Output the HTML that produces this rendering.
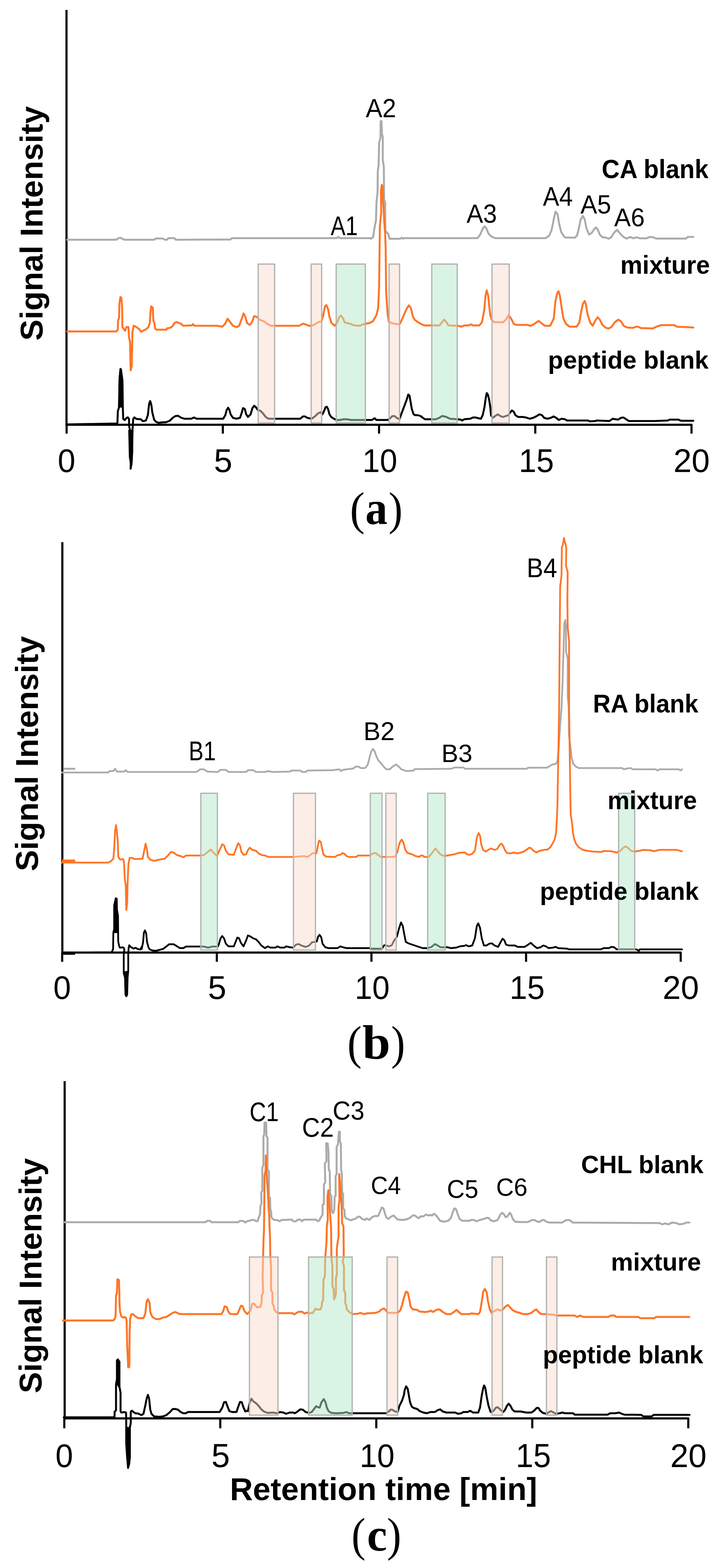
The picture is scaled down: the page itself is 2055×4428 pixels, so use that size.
<!DOCTYPE html>
<html><head><meta charset="utf-8"><title>Chromatograms</title>
<style>html,body{margin:0;padding:0;background:#fff;}svg{display:block;filter:blur(0.6px);}</style>
</head><body>
<svg width="2055" height="4428" viewBox="0 0 2055 4428">
<rect width="2055" height="4428" fill="#fff"/>
<path d="M187.7,28.0 L187.7,1199.5" stroke="#000" stroke-width="6.0" fill="none" stroke-linecap="butt"/>
<path d="M184.7,1199.5 L1952.0,1199.5 L1952.0,1224.5" stroke="#000" stroke-width="6.0" fill="none" stroke-linejoin="round"/>
<path d="M188.0,1199.5 L188.0,1224.5" stroke="#000" stroke-width="6.0" fill="none"/>
<path d="M629.0,1199.5 L629.0,1224.5" stroke="#000" stroke-width="6.0" fill="none"/>
<path d="M1070.0,1199.5 L1070.0,1224.5" stroke="#000" stroke-width="6.0" fill="none"/>
<path d="M1511.0,1199.5 L1511.0,1224.5" stroke="#000" stroke-width="6.0" fill="none"/>
<text transform="translate(163.07,1333.38) scale(0.9704,1)" font-family='"Liberation Sans", Arial, sans-serif' font-weight="normal" font-size="92.16">0</text>
<text transform="translate(603.84,1333.37) scale(1.0045,1)" font-family='"Liberation Sans", Arial, sans-serif' font-weight="normal" font-size="93.48">5</text>
<text transform="translate(1023.01,1333.38) scale(0.9606,1)" font-family='"Liberation Sans", Arial, sans-serif' font-weight="normal" font-size="92.16">10</text>
<text transform="translate(1464.41,1333.37) scale(0.9547,1)" font-family='"Liberation Sans", Arial, sans-serif' font-weight="normal" font-size="93.48">15</text>
<text transform="translate(1901.04,1333.38) scale(1.0008,1)" font-family='"Liberation Sans", Arial, sans-serif' font-weight="normal" font-size="92.16">20</text>
<path d="M189.4,677.1 L328.6,677.1 L332.4,673.4 L339.9,671.5 L345.5,674.5 L351.2,677.1 L435.8,677.1 L439.6,673.4 L458.4,673.4 L465.9,677.1 L471.6,677.1 L475.3,672.6 L492.3,672.6 L496.0,677.1 L600.0,676.5 L650.0,676.5 L655.0,672.5 L950.0,672.5 L955.0,669.0 L960.0,672.5 L1046.0,672.5 L1046.6,674.2 L1053.2,669.8 L1056.9,644.7 L1061.3,622.6 L1062.8,570.9 L1065.8,541.4 L1066.5,482.4 L1068.7,467.6 L1070.2,402.7 L1073.9,389.4 L1074.6,342.1 L1076.8,342.1 L1078.3,379.0 L1080.5,386.4 L1080.5,452.8 L1083.5,470.6 L1084.2,563.5 L1087.2,570.9 L1087.9,652.1 L1095.3,659.5 L1099.7,674.2 L1129.2,674.2 L1133.7,671.3 L1138.1,674.2 L1140.0,672.5 L1198.0,672.5 L1348.0,672.5 L1355.5,662.5 L1363.0,645.0 L1368.0,639.0 L1373.0,645.0 L1379.0,660.0 L1388.0,668.5 L1398.0,672.5 L1540.5,672.5 L1550.5,665.0 L1557.0,650.0 L1562.0,625.0 L1568.0,597.5 L1574.0,605.0 L1578.0,630.0 L1584.0,655.0 L1593.0,669.0 L1598.0,671.0 L1623.0,671.0 L1629.0,665.0 L1634.0,645.0 L1639.0,620.0 L1645.5,610.0 L1650.5,620.0 L1655.5,645.0 L1663.0,662.5 L1670.5,657.5 L1677.0,647.5 L1682.0,642.5 L1687.0,647.5 L1693.0,662.5 L1700.5,670.0 L1710.5,671.0 L1718.0,674.0 L1725.5,670.0 L1733.0,657.5 L1742.0,649.0 L1750.6,659.9 L1759.9,669.1 L1769.1,673.8 L1778.4,669.1 L1787.7,672.9 L1797.0,670.1 L1806.3,672.9 L1824.8,672.9 L1834.1,669.1 L1843.4,670.1 L1852.7,673.8 L1936.2,673.8 L1940.8,669.1 L1957.1,669.1" stroke="#ABABAB" stroke-width="5.5" fill="none" stroke-linejoin="round" stroke-linecap="round" />
<path d="M189.4,936.0 L328.6,936.0 L332.4,931.1 L333.5,904.7 L336.1,897.2 L337.3,855.8 L339.9,838.9 L342.5,840.8 L344.8,867.1 L345.5,923.6 L349.3,929.2 L353.1,934.1 L356.8,923.6 L362.5,923.6 L364.3,953.6 L367.0,964.9 L368.9,1045.8 L371.9,1032.7 L373.8,938.6 L377.5,919.8 L385.0,923.6 L392.6,929.2 L398.2,936.7 L405.7,933.0 L413.3,929.2 L418.9,923.6 L422.7,912.3 L424.5,885.9 L426.4,865.2 L431.3,869.0 L432.8,904.7 L435.8,912.3 L437.7,927.3 L441.5,931.1 L469.7,931.1 L471.6,927.3 L481.0,925.4 L486.6,921.7 L492.3,912.3 L497.9,909.3 L505.4,912.3 L511.1,914.1 L516.7,919.8 L541.2,919.0 L544.9,915.3 L548.7,919.8 L612.5,920.0 L627.5,922.5 L635.0,915.0 L642.5,900.0 L650.0,910.0 L657.5,920.0 L667.5,924.0 L675.0,920.0 L682.5,900.0 L687.5,885.0 L692.5,895.0 L697.5,912.5 L705.0,917.5 L711.0,910.0 L717.5,892.5 L725.0,895.0 L732.5,902.5 L745.0,907.5 L755.0,915.0 L765.0,920.0 L845.0,920.0 L855.0,914.0 L862.5,916.0 L872.5,920.0 L880.0,920.0 L890.0,915.0 L900.0,909.0 L907.5,907.5 L912.5,890.0 L917.5,865.0 L921.0,861.5 L926.0,872.5 L930.0,895.0 L936.0,912.5 L945.0,920.0 L952.5,910.0 L957.5,895.0 L962.5,891.5 L969.0,900.0 L972.5,910.0 L980.0,912.5 L990.0,915.0 L1000.0,919.0 L1015.0,920.0 L1027.5,915.0 L1042.5,912.5 L1052.5,907.5 L1062.5,890.0 L1067.5,870.0 L1070.0,815.0 L1072.4,637.3 L1076.1,600.4 L1075.4,541.4 L1077.6,522.2 L1079.8,526.6 L1081.3,570.9 L1082.7,585.7 L1084.9,630.0 L1087.2,659.5 L1088.6,700.2 L1090.0,825.0 L1094.0,885.0 L1097.5,907.5 L1105.0,912.5 L1120.0,915.0 L1127.5,916.0 L1132.5,907.5 L1140.0,890.0 L1147.5,872.5 L1154.0,862.5 L1160.0,870.0 L1165.0,892.5 L1170.0,902.5 L1180.0,910.0 L1190.0,916.0 L1198.0,919.0 L1240.5,919.0 L1248.0,910.0 L1254.0,902.5 L1260.5,910.0 L1265.5,919.0 L1293.0,920.0 L1303.0,922.5 L1310.5,919.0 L1323.0,919.0 L1329.0,916.0 L1335.5,919.0 L1353.0,919.0 L1360.5,910.0 L1367.0,875.0 L1370.5,835.0 L1374.0,820.0 L1378.0,835.0 L1380.5,860.0 L1384.0,890.0 L1388.0,902.5 L1395.5,910.0 L1408.0,910.0 L1420.5,910.0 L1428.0,902.5 L1435.5,890.0 L1443.0,900.0 L1450.5,915.0 L1458.0,917.5 L1488.0,917.5 L1498.0,920.0 L1508.0,915.0 L1520.5,906.0 L1528.0,912.5 L1538.0,920.0 L1553.0,920.0 L1563.0,900.0 L1568.0,850.0 L1573.0,827.5 L1576.5,822.5 L1580.5,835.0 L1585.5,870.0 L1590.5,900.0 L1598.0,915.0 L1608.0,922.5 L1628.0,922.5 L1635.5,910.0 L1640.5,880.0 L1645.5,857.5 L1650.5,850.0 L1654.0,860.0 L1658.0,885.0 L1665.5,910.0 L1673.0,920.0 L1680.5,905.0 L1687.0,896.0 L1693.0,902.5 L1700.5,917.5 L1710.5,926.0 L1718.0,927.5 L1725.5,924.0 L1735.5,910.0 L1745.5,902.5 L1753.0,907.5 L1760.5,920.0 L1770.5,925.0 L1785.5,926.0 L1796.0,922.5 L1801.6,922.7 L1808.6,926.5 L1843.4,927.4 L1852.7,922.7 L1866.6,918.1 L1903.7,918.1 L1910.7,922.7 L1940.8,923.7 L1957.1,925.1" stroke="#FF7526" stroke-width="5.5" fill="none" stroke-linejoin="round" stroke-linecap="round" />
<path d="M190.0,1198.5 L329.3,1196.1 L331.5,1193.9 L332.6,1161.3 L335.9,1150.4 L337.5,1068.9 L340.2,1041.7 L342.9,1063.5 L345.7,1074.3 L346.7,1150.4 L347.8,1183.0 L352.2,1186.3 L357.6,1179.8 L360.9,1178.7 L364.1,1183.0 L364.7,1204.8 L367.4,1215.7 L369.6,1300.0 L368.6,1323.7 L371.7,1300.0 L373.9,1215.7 L376.1,1183.0 L379.3,1178.7 L384.8,1183.0 L397.8,1184.1 L403.3,1189.6 L412.0,1187.4 L417.4,1172.2 L421.0,1140.0 L424.0,1132.5 L427.5,1145.0 L430.0,1165.0 L435.0,1185.0 L440.0,1191.0 L447.5,1194.0 L460.0,1192.5 L467.5,1192.5 L475.0,1190.0 L480.0,1187.5 L487.5,1180.0 L495.0,1175.0 L502.5,1174.0 L510.0,1179.0 L520.0,1182.5 L540.0,1182.5 L547.5,1179.0 L555.0,1182.5 L630.0,1182.5 L636.0,1172.5 L640.0,1157.5 L644.0,1151.5 L647.5,1157.5 L651.0,1170.0 L657.5,1180.0 L667.5,1182.5 L677.5,1180.0 L682.5,1165.0 L686.0,1152.5 L691.0,1155.0 L695.0,1170.0 L700.0,1177.5 L707.5,1170.0 L712.5,1152.5 L717.5,1146.0 L722.5,1150.0 L727.5,1157.5 L735.0,1160.0 L742.5,1167.5 L750.0,1177.5 L757.5,1182.5 L775.0,1182.5 L847.5,1182.5 L855.0,1176.0 L861.0,1176.0 L867.5,1180.0 L880.0,1182.5 L890.0,1175.0 L897.5,1167.5 L905.0,1164.0 L910.0,1170.0 L914.0,1162.5 L919.0,1150.0 L922.5,1148.5 L926.0,1155.0 L930.0,1170.0 L935.0,1177.5 L942.5,1182.5 L950.0,1186.0 L960.0,1186.0 L970.0,1184.0 L980.0,1184.0 L990.0,1186.0 L1000.0,1186.0 L1030.0,1186.0 L1050.0,1186.0 L1057.5,1181.0 L1062.5,1186.0 L1095.0,1186.0 L1102.5,1180.0 L1107.5,1175.0 L1114.0,1175.0 L1120.0,1180.0 L1127.5,1184.0 L1132.5,1170.0 L1140.0,1150.0 L1147.5,1130.0 L1152.5,1114.0 L1156.0,1117.5 L1159.0,1135.0 L1162.5,1155.0 L1167.5,1170.0 L1172.5,1172.5 L1180.0,1172.5 L1187.5,1175.0 L1195.0,1181.0 L1200.0,1184.0 L1220.0,1184.0 L1230.0,1184.0 L1240.0,1180.0 L1247.5,1175.0 L1250.0,1175.0 L1260.0,1177.5 L1270.0,1182.5 L1292.5,1184.0 L1300.0,1185.0 L1305.0,1187.5 L1310.0,1184.0 L1327.5,1182.5 L1335.0,1179.0 L1342.5,1179.0 L1350.0,1181.0 L1357.5,1182.5 L1362.5,1172.5 L1367.5,1150.0 L1371.0,1125.0 L1374.0,1110.0 L1377.5,1115.0 L1381.0,1130.0 L1384.0,1150.0 L1386.0,1172.5 L1391.0,1180.0 L1397.5,1175.0 L1405.0,1170.0 L1412.5,1175.0 L1420.0,1177.5 L1427.5,1175.0 L1435.0,1172.5 L1440.0,1165.0 L1445.0,1159.0 L1450.0,1162.5 L1455.0,1172.5 L1462.5,1177.5 L1475.0,1177.5 L1485.0,1179.0 L1495.0,1182.5 L1505.0,1180.0 L1515.0,1175.0 L1522.5,1170.0 L1530.0,1172.5 L1536.0,1180.0 L1545.0,1182.5 L1555.0,1180.0 L1562.5,1176.0 L1570.0,1180.0 L1577.5,1186.0 L1585.0,1182.5 L1595.0,1184.0 L1600.0,1187.5 L1660.0,1187.5 L1665.0,1190.0 L1680.0,1189.0 L1685.0,1187.5 L1720.0,1189.0 L1730.0,1182.5 L1737.5,1184.0 L1745.0,1185.0 L1752.5,1180.0 L1760.0,1179.0 L1767.5,1184.0 L1775.0,1189.0 L1848.0,1189.0 L1885.2,1187.4 L1889.8,1185.1 L1915.3,1185.1 L1922.3,1188.3 L1957.1,1188.3" stroke="#000" stroke-width="5.5" fill="none" stroke-linejoin="round" stroke-linecap="round" />
<rect x="728.8" y="745.8" width="46.5" height="448.5" fill="rgba(249,219,205,0.5)" stroke="#B2B2B2" stroke-width="3.5"/>
<rect x="878.4" y="745.8" width="29.6" height="448.5" fill="rgba(249,219,205,0.5)" stroke="#B2B2B2" stroke-width="3.5"/>
<rect x="949.0" y="745.8" width="82.3" height="448.5" fill="rgba(179,233,201,0.5)" stroke="#B2B2B2" stroke-width="3.5"/>
<rect x="1098.3" y="745.8" width="29.6" height="448.5" fill="rgba(249,219,205,0.5)" stroke="#B2B2B2" stroke-width="3.5"/>
<rect x="1218.8" y="745.8" width="71.9" height="448.5" fill="rgba(179,233,201,0.5)" stroke="#B2B2B2" stroke-width="3.5"/>
<rect x="1388.8" y="745.8" width="48.6" height="448.5" fill="rgba(249,219,205,0.5)" stroke="#B2B2B2" stroke-width="3.5"/>
<path d="M176.0,1531.0 L176.0,2690.0" stroke="#000" stroke-width="6.0" fill="none" stroke-linecap="butt"/>
<path d="M173.0,2690.0 L1921.5,2690.0 L1921.5,2716.0" stroke="#000" stroke-width="6.0" fill="none" stroke-linejoin="round"/>
<path d="M175.5,2690.0 L175.5,2716.0" stroke="#000" stroke-width="6.0" fill="none"/>
<path d="M612.0,2690.0 L612.0,2716.0" stroke="#000" stroke-width="6.0" fill="none"/>
<path d="M1048.5,2690.0 L1048.5,2716.0" stroke="#000" stroke-width="6.0" fill="none"/>
<path d="M1485.0,2690.0 L1485.0,2716.0" stroke="#000" stroke-width="6.0" fill="none"/>
<text transform="translate(150.57,2821.38) scale(0.9704,1)" font-family='"Liberation Sans", Arial, sans-serif' font-weight="normal" font-size="92.16">0</text>
<text transform="translate(586.84,2821.37) scale(1.0045,1)" font-family='"Liberation Sans", Arial, sans-serif' font-weight="normal" font-size="93.48">5</text>
<text transform="translate(1001.51,2821.38) scale(0.9606,1)" font-family='"Liberation Sans", Arial, sans-serif' font-weight="normal" font-size="92.16">10</text>
<text transform="translate(1438.41,2821.37) scale(0.9547,1)" font-family='"Liberation Sans", Arial, sans-serif' font-weight="normal" font-size="93.48">15</text>
<text transform="translate(1870.54,2821.38) scale(1.0008,1)" font-family='"Liberation Sans", Arial, sans-serif' font-weight="normal" font-size="92.16">20</text>
<path d="M180,2171 L212.5,2171" stroke="#ABABAB" stroke-width="5.5" fill="none"/>
<path d="M175.0,2181.5 L305.0,2181.5 L310.0,2177.5 L320.0,2177.5 L325.0,2171.0 L330.0,2179.0 L350.0,2179.0 L355.0,2175.0 L360.0,2180.0 L555.0,2180.0 L565.0,2172.5 L575.0,2172.5 L585.0,2179.0 L615.0,2180.0 L622.5,2174.0 L637.5,2174.0 L645.0,2180.0 L695.0,2180.0 L700.0,2175.0 L715.0,2175.0 L722.5,2180.0 L748.0,2180.0 L758.0,2177.5 L768.0,2180.0 L818.0,2179.0 L823.0,2176.0 L848.0,2176.0 L853.0,2180.0 L863.0,2180.0 L868.0,2176.0 L938.0,2175.0 L958.0,2172.5 L963.0,2177.5 L968.0,2174.0 L998.0,2170.0 L1003.0,2165.0 L1013.0,2165.0 L1018.0,2169.0 L1030.5,2169.0 L1038.0,2160.0 L1043.0,2140.0 L1048.0,2122.5 L1053.0,2115.0 L1058.0,2122.5 L1062.0,2135.0 L1068.0,2147.5 L1075.5,2155.0 L1083.0,2165.0 L1090.5,2172.5 L1100.5,2172.5 L1108.0,2165.0 L1118.0,2159.0 L1125.5,2165.0 L1133.0,2172.5 L1143.0,2176.0 L1148.0,2177.5 L1168.0,2176.0 L1170.5,2172.0 L1273.0,2171.0 L1283.0,2167.5 L1308.0,2167.5 L1313.0,2171.0 L1346.0,2171.0 L1486.0,2171.0 L1491.0,2168.0 L1543.5,2168.0 L1551.0,2164.0 L1558.5,2159.0 L1568.5,2157.5 L1573.5,2150.0 L1577.0,2115.0 L1581.0,2050.0 L1585.0,2000.2 L1588.0,1927.2 L1590.9,1830.1 L1592.8,1762.1 L1595.7,1750.5 L1597.7,1771.8 L1597.7,1839.8 L1602.5,1859.2 L1602.5,1966.0 L1605.4,2000.2 L1606.0,2075.0 L1611.0,2115.0 L1613.5,2140.0 L1618.5,2157.5 L1626.0,2165.0 L1633.5,2169.0 L1756.0,2169.0 L1761.0,2172.5 L1771.0,2170.0 L1781.0,2169.0 L1786.0,2172.5 L1851.0,2172.5 L1856.0,2176.0 L1861.0,2172.5 L1916.0,2172.5 L1921.0,2176.0 L1925.0,2172.5" stroke="#ABABAB" stroke-width="5.0" fill="none" stroke-linejoin="round" stroke-linecap="round" />
<path d="M175,2431 L212,2431" stroke="#FF7526" stroke-width="7.5" fill="none"/>
<path d="M175.0,2436.0 L305.0,2436.0 L312.5,2432.5 L320.0,2425.0 L322.5,2395.0 L325.0,2345.0 L327.5,2330.0 L330.0,2350.0 L332.5,2375.0 L334.0,2420.0 L339.0,2427.5 L347.5,2426.0 L350.0,2435.0 L352.5,2485.0 L355.0,2500.0 L356.5,2570.0 L359.0,2550.0 L360.0,2500.0 L362.5,2440.0 L366.0,2422.5 L372.5,2422.5 L380.0,2426.0 L402.5,2425.0 L407.5,2400.0 L411.0,2382.5 L415.0,2400.0 L417.5,2420.0 L424.0,2427.5 L435.0,2431.0 L450.0,2427.5 L465.0,2425.0 L475.0,2415.0 L482.5,2406.0 L490.0,2407.5 L500.0,2415.0 L510.0,2417.5 L517.5,2421.0 L525.0,2416.0 L565.0,2416.0 L575.0,2415.0 L587.5,2405.0 L595.0,2399.0 L602.5,2407.5 L612.5,2417.5 L620.0,2400.0 L627.5,2384.0 L632.5,2387.5 L637.5,2402.5 L645.0,2412.5 L660.0,2414.0 L665.0,2400.0 L672.5,2381.0 L677.5,2387.5 L681.0,2405.0 L687.5,2414.0 L695.0,2412.5 L700.0,2400.0 L705.0,2394.0 L712.5,2400.0 L722.5,2402.5 L730.0,2410.0 L740.0,2415.0 L748.0,2416.0 L758.0,2420.0 L828.0,2420.0 L858.0,2417.5 L868.0,2420.0 L875.5,2415.0 L883.0,2409.0 L893.0,2410.0 L897.0,2390.0 L900.5,2374.0 L905.5,2377.5 L909.0,2395.0 L913.0,2412.5 L920.5,2419.0 L945.5,2420.0 L953.0,2415.0 L960.5,2414.0 L967.0,2409.0 L972.0,2411.0 L978.0,2417.5 L985.5,2420.0 L1005.5,2420.0 L1010.5,2416.0 L1043.0,2416.0 L1053.0,2410.0 L1060.5,2409.0 L1068.0,2415.0 L1075.5,2420.0 L1098.0,2420.0 L1115.5,2419.0 L1122.0,2405.0 L1128.0,2380.0 L1134.0,2371.0 L1139.0,2380.0 L1144.0,2400.0 L1150.5,2409.0 L1163.0,2412.5 L1173.0,2417.5 L1183.0,2420.0 L1188.0,2416.0 L1193.0,2416.0 L1198.0,2420.0 L1210.5,2420.0 L1220.5,2407.5 L1229.0,2396.0 L1235.5,2404.0 L1243.0,2412.5 L1253.0,2417.5 L1263.0,2416.0 L1273.0,2414.0 L1283.0,2412.5 L1293.0,2409.0 L1303.0,2407.5 L1313.0,2407.5 L1318.0,2412.5 L1325.5,2414.0 L1333.0,2411.0 L1340.5,2402.5 L1346.0,2365.0 L1351.0,2352.5 L1355.0,2360.0 L1358.5,2385.0 L1363.5,2400.0 L1371.0,2405.0 L1378.5,2400.0 L1386.0,2396.0 L1396.0,2400.0 L1403.5,2397.5 L1411.0,2385.0 L1416.0,2382.5 L1421.0,2390.0 L1425.0,2400.0 L1431.0,2409.0 L1441.0,2410.0 L1451.0,2407.5 L1461.0,2410.0 L1476.0,2406.0 L1486.0,2400.0 L1493.5,2394.0 L1498.5,2395.0 L1506.0,2402.5 L1513.5,2407.5 L1523.5,2402.5 L1536.0,2400.0 L1546.0,2399.0 L1553.5,2392.5 L1561.0,2380.0 L1566.0,2370.0 L1570.0,2350.0 L1572.0,2310.0 L1573.5,2275.0 L1578.3,2000.2 L1579.2,1888.3 L1581.2,1655.3 L1585.0,1626.2 L1586.0,1544.7 L1588.9,1538.8 L1591.8,1519.4 L1596.7,1538.8 L1598.6,1548.5 L1597.7,1597.1 L1602.5,1616.5 L1601.6,1694.2 L1602.5,1771.8 L1606.4,1810.7 L1606.4,2000.2 L1610.0,2250.0 L1611.0,2300.0 L1615.0,2325.0 L1617.0,2350.0 L1621.0,2370.0 L1626.0,2382.5 L1633.5,2392.5 L1643.5,2399.0 L1656.0,2402.5 L1676.0,2405.0 L1696.0,2406.0 L1706.0,2403.0 L1726.0,2404.0 L1741.0,2407.5 L1751.0,2402.5 L1758.5,2395.0 L1766.0,2390.0 L1773.5,2395.0 L1781.0,2402.5 L1791.0,2405.0 L1806.0,2402.5 L1816.0,2400.0 L1836.0,2401.0 L1846.0,2404.0 L1861.0,2400.0 L1911.0,2400.0 L1918.5,2402.5 L1925.0,2404.0" stroke="#FF7526" stroke-width="5.0" fill="none" stroke-linejoin="round" stroke-linecap="round" />
<path d="M175,2692 L212,2692" stroke="#000" stroke-width="8.5" fill="none"/>
<path d="M212.5,2690.0 L315.0,2689.0 L315.6,2688.5 L319.3,2680.0 L319.9,2634.3 L322.3,2622.3 L322.3,2556.1 L325.3,2544.0 L326.5,2536.8 L329.5,2538.0 L330.1,2568.1 L333.1,2586.2 L333.7,2658.4 L336.1,2670.4 L338.5,2676.4 L345.7,2675.2 L349.3,2676.4 L351.1,2682.5 L349.3,2694.5 L349.3,2748.6 L352.9,2760.7 L354.2,2808.8 L356.6,2813.6 L359.0,2808.8 L360.2,2760.7 L362.0,2742.6 L362.0,2694.5 L363.2,2676.4 L365.0,2669.2 L368.6,2674.0 L377.0,2678.8 L383.0,2676.4 L386.6,2678.8 L392.7,2681.2 L396.3,2681.2 L399.9,2674.0 L400.0,2680.0 L404.0,2660.0 L406.0,2635.0 L409.0,2627.5 L412.5,2635.0 L415.0,2660.0 L419.0,2675.0 L422.5,2681.0 L430.0,2684.0 L440.0,2685.0 L450.0,2682.5 L460.0,2680.0 L470.0,2672.5 L477.5,2666.5 L490.0,2666.5 L500.0,2672.5 L507.5,2677.5 L517.5,2677.5 L525.0,2673.0 L565.0,2673.0 L575.0,2673.0 L587.5,2676.0 L600.0,2673.0 L615.0,2673.0 L617.5,2667.5 L622.5,2650.0 L627.5,2643.5 L632.5,2650.0 L637.5,2665.0 L645.0,2672.5 L660.0,2672.5 L665.0,2660.0 L670.0,2647.5 L675.0,2650.0 L680.0,2662.5 L687.5,2672.5 L695.0,2655.0 L700.0,2641.5 L707.5,2645.0 L715.0,2650.0 L722.5,2652.5 L730.0,2660.0 L737.5,2670.0 L748.0,2677.5 L755.5,2672.5 L763.0,2676.0 L778.0,2676.0 L783.0,2672.5 L790.5,2676.0 L803.0,2676.0 L808.0,2672.5 L818.0,2675.0 L828.0,2676.0 L835.5,2667.5 L843.0,2666.0 L853.0,2671.0 L863.0,2674.0 L873.0,2670.0 L880.5,2661.0 L888.0,2660.0 L894.0,2659.0 L898.0,2645.0 L902.0,2640.0 L907.0,2647.5 L910.5,2665.0 L918.0,2675.0 L928.0,2677.5 L953.0,2677.5 L960.5,2672.5 L968.0,2675.0 L978.0,2677.5 L1043.0,2677.5 L1048.0,2679.0 L1078.0,2679.0 L1084.0,2670.0 L1088.0,2669.0 L1098.0,2672.5 L1105.5,2670.0 L1113.0,2655.0 L1120.5,2645.0 L1125.5,2625.0 L1132.0,2605.0 L1137.0,2615.0 L1140.5,2635.0 L1145.5,2660.0 L1153.0,2664.0 L1163.0,2667.5 L1178.0,2672.5 L1193.0,2677.5 L1208.0,2677.5 L1218.0,2674.0 L1228.0,2666.0 L1235.5,2670.0 L1243.0,2675.0 L1263.0,2675.0 L1273.0,2677.5 L1288.0,2676.0 L1298.0,2672.5 L1310.5,2671.0 L1315.5,2669.0 L1323.0,2672.5 L1333.0,2670.0 L1340.5,2650.0 L1346.0,2615.0 L1350.0,2607.5 L1355.0,2620.0 L1360.0,2650.0 L1366.0,2670.0 L1373.5,2670.0 L1381.0,2665.0 L1388.5,2664.0 L1396.0,2670.0 L1406.0,2674.0 L1413.5,2660.0 L1418.5,2651.0 L1423.5,2655.0 L1428.5,2667.5 L1436.0,2670.0 L1453.5,2670.0 L1461.0,2674.0 L1481.0,2674.0 L1491.0,2667.5 L1498.5,2662.5 L1506.0,2670.0 L1516.0,2677.5 L1526.0,2675.0 L1533.5,2670.0 L1541.0,2672.5 L1548.5,2677.5 L1561.0,2676.0 L1568.5,2674.0 L1576.0,2677.5 L1601.0,2679.0 L1606.0,2681.0 L1696.0,2681.0 L1703.5,2677.5 L1718.5,2677.5 L1726.0,2674.0 L1733.5,2675.0 L1741.0,2681.0 L1796.0,2681.0 L1803.5,2685.0 L1806.0,2681.0 L1925.0,2681.0" stroke="#000" stroke-width="5.0" fill="none" stroke-linejoin="round" stroke-linecap="round" />
<rect x="566.9" y="2240.2" width="46.7" height="443.0" fill="rgba(179,233,201,0.5)" stroke="#B2B2B2" stroke-width="3.5"/>
<rect x="828.4" y="2240.2" width="62.1" height="443.0" fill="rgba(249,219,205,0.5)" stroke="#B2B2B2" stroke-width="3.5"/>
<rect x="1045.3" y="2240.2" width="33.1" height="443.0" fill="rgba(179,233,201,0.5)" stroke="#B2B2B2" stroke-width="3.5"/>
<rect x="1089.2" y="2240.2" width="29.3" height="443.0" fill="rgba(249,219,205,0.5)" stroke="#B2B2B2" stroke-width="3.5"/>
<rect x="1207.3" y="2240.2" width="49.2" height="443.0" fill="rgba(179,233,201,0.5)" stroke="#B2B2B2" stroke-width="3.5"/>
<rect x="1746.3" y="2240.2" width="45.4" height="443.0" fill="rgba(179,233,201,0.5)" stroke="#B2B2B2" stroke-width="3.5"/>
<path d="M182.5,3053.0 L182.5,4005.5" stroke="#000" stroke-width="6.0" fill="none" stroke-linecap="butt"/>
<path d="M179.5,4005.5 L1942.9,4005.5 L1942.9,4033.5" stroke="#000" stroke-width="6.0" fill="none" stroke-linejoin="round"/>
<path d="M181.5,4005.5 L181.5,4033.5" stroke="#000" stroke-width="6.0" fill="none"/>
<path d="M621.8,4005.5 L621.8,4033.5" stroke="#000" stroke-width="6.0" fill="none"/>
<path d="M1062.2,4005.5 L1062.2,4033.5" stroke="#000" stroke-width="6.0" fill="none"/>
<path d="M1502.5,4005.5 L1502.5,4033.5" stroke="#000" stroke-width="6.0" fill="none"/>
<text transform="translate(156.57,4143.07) scale(0.9586,1)" font-family='"Liberation Sans", Arial, sans-serif' font-weight="normal" font-size="93.29">0</text>
<text transform="translate(596.69,4143.05) scale(0.9923,1)" font-family='"Liberation Sans", Arial, sans-serif' font-weight="normal" font-size="94.62">5</text>
<text transform="translate(1015.21,4143.07) scale(0.9489,1)" font-family='"Liberation Sans", Arial, sans-serif' font-weight="normal" font-size="93.29">10</text>
<text transform="translate(1455.96,4143.05) scale(0.9432,1)" font-family='"Liberation Sans", Arial, sans-serif' font-weight="normal" font-size="94.62">15</text>
<text transform="translate(1891.94,4143.07) scale(0.9886,1)" font-family='"Liberation Sans", Arial, sans-serif' font-weight="normal" font-size="93.29">20</text>
<path d="M180.0,3451.5 L580.0,3451.5 L585.0,3447.5 L592.5,3447.5 L597.5,3451.5 L672.5,3451.5 L677.5,3447.5 L687.5,3448.5 L692.5,3452.5 L697.5,3448.5 L705.0,3447.5 L710.0,3445.0 L717.5,3445.0 L722.5,3448.5 L727.5,3448.5 L729.6,3440.3 L734.2,3429.4 L735.0,3406.1 L738.1,3398.4 L737.3,3367.3 L740.5,3362.7 L740.5,3297.5 L743.6,3289.7 L743.6,3209.0 L745.9,3204.3 L746.7,3170.2 L751.3,3170.2 L752.1,3209.0 L755.2,3212.1 L755.2,3302.1 L759.1,3308.3 L759.1,3379.7 L762.2,3382.8 L763.0,3413.9 L765.3,3421.7 L766.1,3437.2 L769.2,3441.8 L773.8,3444.9 L783.1,3445.7 L789.3,3448.8 L795.6,3444.9 L810.0,3444.9 L815.0,3444.3 L824.2,3444.3 L827.8,3448.9 L835.2,3448.9 L840.7,3444.3 L848.1,3444.3 L852.7,3448.9 L857.3,3444.3 L892.2,3444.3 L897.7,3448.9 L901.4,3446.2 L905.1,3438.8 L910.6,3429.6 L910.6,3402.0 L914.3,3400.2 L914.3,3345.0 L918.0,3339.5 L917.0,3286.1 L921.6,3278.8 L920.7,3229.1 L925.3,3229.1 L927.2,3253.0 L928.1,3302.7 L930.8,3308.2 L931.8,3370.8 L935.4,3378.1 L936.4,3416.7 L938.2,3424.1 L940.0,3425.9 L941.9,3422.3 L943.7,3414.9 L944.6,3379.9 L947.4,3376.3 L947.4,3321.1 L950.2,3315.6 L950.2,3238.3 L953.8,3232.8 L956.6,3196.0 L959.4,3196.0 L959.4,3223.6 L962.1,3229.1 L963.0,3306.4 L964.9,3311.9 L965.8,3367.1 L968.6,3370.8 L968.6,3411.2 L972.2,3416.7 L973.2,3435.1 L976.8,3440.7 L982.4,3442.5 L989.7,3446.2 L1000.0,3442.5 L1002.5,3442.5 L1010.0,3436.0 L1016.0,3436.0 L1022.5,3442.5 L1030.0,3445.0 L1035.0,3441.0 L1042.5,3445.0 L1050.0,3437.5 L1057.5,3434.0 L1067.5,3434.0 L1072.5,3422.5 L1077.5,3410.0 L1082.5,3412.5 L1086.0,3425.0 L1090.0,3437.5 L1096.0,3442.5 L1105.0,3435.0 L1111.0,3432.5 L1116.0,3437.5 L1122.5,3444.0 L1140.0,3445.0 L1150.0,3442.5 L1157.5,3439.0 L1165.0,3432.5 L1171.0,3432.5 L1177.5,3437.5 L1182.5,3440.0 L1187.5,3435.0 L1195.0,3435.0 L1202.5,3430.0 L1210.0,3432.5 L1215.0,3431.0 L1220.0,3432.5 L1225.0,3427.5 L1230.0,3431.0 L1235.0,3437.5 L1242.5,3447.5 L1252.5,3450.0 L1265.0,3447.5 L1272.5,3440.0 L1277.5,3425.0 L1282.5,3412.5 L1287.5,3415.0 L1292.5,3430.0 L1297.5,3442.5 L1305.0,3447.5 L1325.0,3447.5 L1330.0,3445.0 L1337.5,3445.0 L1345.0,3449.0 L1355.0,3445.0 L1365.0,3442.5 L1375.0,3439.0 L1380.0,3440.0 L1385.0,3446.0 L1395.0,3449.0 L1405.0,3445.0 L1412.5,3430.0 L1417.5,3425.0 L1422.5,3429.0 L1427.5,3437.5 L1432.5,3435.0 L1439.0,3425.0 L1442.5,3429.0 L1447.5,3442.5 L1454.0,3450.0 L1467.5,3451.0 L1490.0,3451.0 L1500.0,3446.0 L1507.5,3445.0 L1515.0,3449.0 L1522.5,3451.0 L1530.0,3446.0 L1535.0,3445.0 L1542.5,3450.0 L1550.0,3452.5 L1587.0,3452.5 L1597.0,3446.0 L1607.0,3445.0 L1617.0,3452.5 L1862.0,3454.0 L1869.5,3457.5 L1877.0,3455.0 L1887.0,3457.5 L1897.0,3452.5 L1909.5,3454.0 L1917.0,3457.5 L1929.5,3456.0 L1937.0,3452.5 L1946.0,3452.5" stroke="#ABABAB" stroke-width="5.5" fill="none" stroke-linejoin="round" stroke-linecap="round" />
<path d="M177.5,3729.0 L320.0,3729.0 L325.0,3722.5 L326.5,3710.0 L327.5,3660.0 L330.0,3650.0 L331.5,3612.5 L336.0,3615.0 L337.5,3685.0 L339.0,3705.0 L342.5,3717.5 L347.5,3721.0 L352.5,3719.0 L356.0,3722.5 L357.5,3732.5 L359.0,3800.0 L361.0,3840.0 L361.9,3861.6 L365.0,3860.0 L366.0,3760.0 L367.5,3725.0 L370.0,3712.5 L375.0,3711.0 L382.5,3717.5 L390.0,3722.5 L405.0,3722.5 L410.0,3710.0 L414.0,3675.0 L417.5,3669.0 L422.5,3680.0 L424.0,3705.0 L430.0,3719.0 L440.0,3725.0 L450.0,3725.0 L460.0,3721.0 L470.0,3719.0 L480.0,3712.5 L487.5,3707.5 L494.0,3705.0 L500.0,3707.5 L507.5,3711.0 L530.0,3711.0 L625.0,3711.0 L630.0,3702.5 L634.0,3689.0 L640.0,3691.0 L645.0,3705.0 L650.0,3711.0 L670.0,3711.0 L675.0,3700.0 L680.0,3687.5 L685.0,3689.0 L690.0,3702.5 L697.5,3711.0 L700.0,3708.2 L707.5,3700.7 L711.3,3683.1 L715.0,3680.6 L718.8,3683.1 L725.1,3691.9 L735.1,3690.6 L738.9,3675.6 L738.9,3658.0 L742.6,3650.5 L741.4,3605.3 L743.9,3500.0 L745.1,3476.0 L745.9,3413.9 L746.7,3320.8 L749.8,3305.2 L750.5,3263.3 L752.1,3297.5 L752.9,3320.8 L756.7,3375.1 L758.3,3413.9 L759.9,3429.4 L760.6,3460.5 L762.2,3491.5 L763.0,3549.9 L765.2,3580.3 L765.2,3643.0 L769.0,3650.5 L769.0,3680.6 L772.7,3688.1 L774.0,3698.1 L780.3,3705.7 L785.3,3708.2 L825.4,3708.2 L830.4,3711.9 L836.7,3708.2 L843.0,3704.4 L853.0,3704.4 L859.3,3709.4 L865.5,3706.9 L873.1,3708.2 L883.1,3708.2 L890.6,3695.6 L894.4,3698.1 L904.4,3698.1 L908.2,3688.1 L909.4,3675.6 L911.9,3673.1 L913.2,3612.9 L917.0,3605.3 L918.2,3550.2 L921.6,3508.7 L922.6,3462.7 L925.3,3444.3 L924.4,3379.9 L926.8,3361.6 L929.0,3379.9 L930.8,3416.7 L934.5,3462.7 L935.4,3550.1 L938.3,3575.2 L938.3,3632.9 L942.0,3640.5 L942.8,3669.3 L947.1,3660.5 L948.3,3650.5 L948.3,3607.9 L950.8,3600.3 L950.8,3525.1 L955.7,3490.3 L955.7,3407.5 L958.4,3389.1 L957.5,3315.6 L962.1,3361.6 L964.9,3416.7 L965.8,3453.5 L969.5,3462.7 L970.4,3550.1 L967.1,3562.7 L970.9,3575.2 L970.9,3643.0 L974.6,3650.5 L974.6,3680.6 L977.2,3685.6 L978.4,3695.6 L983.4,3703.2 L994.7,3710.7 L1000.0,3710.7 L1010.0,3710.0 L1017.5,3707.5 L1027.5,3711.0 L1035.0,3709.0 L1060.0,3707.5 L1070.0,3704.0 L1077.5,3697.5 L1084.0,3695.0 L1089.0,3700.0 L1095.0,3707.5 L1122.5,3707.5 L1130.0,3700.0 L1135.0,3685.0 L1140.0,3665.0 L1146.0,3647.5 L1151.0,3650.0 L1155.0,3667.5 L1159.0,3690.0 L1165.0,3697.5 L1177.5,3699.0 L1185.0,3704.0 L1200.0,3705.0 L1210.0,3704.0 L1215.0,3701.0 L1222.5,3705.0 L1230.0,3700.0 L1237.5,3697.5 L1242.5,3699.0 L1250.0,3705.0 L1260.0,3711.0 L1272.5,3711.0 L1280.0,3706.0 L1289.0,3699.0 L1295.0,3705.0 L1302.5,3711.0 L1325.0,3711.0 L1330.0,3709.0 L1350.0,3711.0 L1355.0,3705.0 L1360.0,3675.0 L1364.0,3647.5 L1369.0,3640.0 L1374.0,3650.0 L1377.5,3675.0 L1382.5,3697.5 L1387.5,3707.5 L1395.0,3702.5 L1405.0,3697.5 L1412.5,3701.0 L1420.0,3697.5 L1427.5,3689.0 L1434.0,3685.0 L1440.0,3692.5 L1447.5,3700.0 L1457.5,3705.0 L1467.5,3707.5 L1475.0,3711.0 L1490.0,3711.0 L1500.0,3707.5 L1507.5,3701.0 L1514.0,3698.0 L1520.0,3705.0 L1527.5,3711.0 L1540.0,3711.0 L1560.0,3712.5 L1572.5,3715.0 L1592.0,3715.0 L1622.0,3715.0 L1629.5,3719.0 L1637.0,3715.0 L1647.0,3719.0 L1717.0,3719.0 L1724.5,3715.0 L1734.5,3715.0 L1739.5,3719.0 L1802.0,3719.0 L1807.0,3722.5 L1847.0,3722.5 L1852.0,3719.0 L1946.0,3719.0" stroke="#FF7526" stroke-width="5.5" fill="none" stroke-linejoin="round" stroke-linecap="round" />
<path d="M180.0,4002.5 L322.5,4002.5 L323.0,4004.4 L323.7,3986.5 L327.5,3982.6 L327.5,3909.6 L330.1,3894.3 L330.1,3841.8 L332.7,3839.2 L337.1,3845.6 L337.1,3916.0 L340.3,3932.7 L340.3,3985.2 L342.3,3989.0 L351.2,3987.7 L355.7,3989.0 L356.3,4004.4 L356.3,4076.0 L358.9,4114.5 L361.5,4145.2 L364.7,4133.7 L366.6,4114.5 L366.6,4031.3 L369.1,4018.5 L369.1,3986.5 L372.3,3983.9 L376.8,3987.7 L383.2,3991.6 L389.6,3991.6 L397.3,3995.4 L400.0,3996.0 L405.0,3992.5 L410.0,3970.0 L414.0,3950.0 L417.5,3939.0 L421.0,3950.0 L424.0,3980.0 L427.5,3992.5 L435.0,4000.0 L450.0,4001.0 L460.0,4000.0 L470.0,3996.0 L480.0,3987.5 L487.5,3979.0 L495.0,3979.0 L502.5,3981.0 L510.0,3987.5 L517.5,3991.0 L525.0,3991.0 L530.0,3987.5 L620.0,3987.5 L627.5,3975.0 L632.5,3960.0 L637.5,3959.0 L642.5,3972.5 L647.5,3985.0 L655.0,3987.5 L667.5,3987.5 L672.5,3972.5 L677.5,3959.0 L682.5,3960.0 L687.5,3975.0 L692.5,3986.0 L697.5,3984.0 L700.0,3985.0 L705.0,3960.0 L710.0,3950.0 L715.0,3957.5 L722.5,3962.5 L730.0,3970.0 L737.5,3980.0 L745.0,3986.0 L755.0,3990.0 L770.0,3989.0 L782.5,3991.0 L790.0,3987.5 L800.0,3989.0 L807.5,3992.5 L817.5,3989.0 L827.5,3989.0 L832.5,3991.0 L840.0,3986.0 L847.5,3980.0 L855.0,3981.0 L862.5,3987.5 L872.5,3990.0 L880.0,3987.5 L887.5,3977.5 L892.5,3971.0 L897.5,3974.0 L902.5,3975.0 L907.5,3960.0 L914.0,3951.0 L919.0,3960.0 L922.5,3975.0 L927.5,3985.0 L935.0,3990.0 L950.0,3991.0 L970.0,3990.0 L977.5,3987.5 L985.0,3991.0 L1000.0,3991.0 L1090.0,3991.0 L1097.5,3986.0 L1102.5,3981.0 L1107.5,3981.0 L1115.0,3986.0 L1122.5,3987.5 L1127.5,3970.0 L1135.0,3955.0 L1140.0,3940.0 L1142.5,3925.0 L1146.5,3915.0 L1151.0,3922.5 L1154.0,3940.0 L1157.5,3960.0 L1162.5,3972.5 L1167.5,3976.0 L1177.5,3979.0 L1185.0,3985.0 L1195.0,3989.0 L1205.0,3991.0 L1215.0,3987.5 L1227.5,3987.5 L1235.0,3982.5 L1242.5,3980.0 L1250.0,3986.0 L1260.0,3989.0 L1285.0,3989.0 L1292.5,3992.5 L1302.5,3991.0 L1307.5,3987.5 L1320.0,3987.5 L1327.5,3984.0 L1335.0,3989.0 L1350.0,3989.0 L1355.0,3975.0 L1360.0,3940.0 L1364.0,3920.0 L1366.5,3912.5 L1370.0,3920.0 L1374.0,3945.0 L1379.0,3970.0 L1385.0,3987.5 L1392.5,3985.0 L1400.0,3975.0 L1405.0,3974.0 L1412.5,3981.0 L1420.0,3987.5 L1425.0,3982.5 L1431.0,3970.0 L1436.0,3964.0 L1441.0,3970.0 L1446.0,3980.0 L1452.5,3986.0 L1470.0,3986.0 L1485.0,3989.0 L1500.0,3989.0 L1507.5,3984.0 L1515.0,3976.0 L1520.0,3976.0 L1525.0,3984.0 L1532.5,3990.0 L1542.5,3992.5 L1550.0,3987.5 L1556.0,3985.0 L1562.5,3989.0 L1570.0,3992.5 L1580.0,3991.0 L1587.5,3989.0 L1595.0,3991.0 L1617.5,3991.0 L1622.5,3995.0 L1715.0,3995.0 L1722.5,3991.0 L1737.5,3991.0 L1747.5,3989.0 L1755.0,3992.5 L1762.5,3995.0 L1809.8,3995.4 L1815.8,3999.9 L1839.5,3999.9 L1845.4,3995.4 L1946.4,3995.4" stroke="#000" stroke-width="5.5" fill="none" stroke-linejoin="round" stroke-linecap="round" />
<rect x="704.2" y="3549.8" width="80.5" height="446.5" fill="rgba(249,219,205,0.5)" stroke="#B2B2B2" stroke-width="3.5"/>
<rect x="871.0" y="3549.8" width="123.2" height="446.5" fill="rgba(179,233,201,0.5)" stroke="#B2B2B2" stroke-width="3.5"/>
<rect x="1092.5" y="3549.8" width="29.9" height="446.5" fill="rgba(249,219,205,0.5)" stroke="#B2B2B2" stroke-width="3.5"/>
<rect x="1389.0" y="3549.8" width="29.5" height="446.5" fill="rgba(249,219,205,0.5)" stroke="#B2B2B2" stroke-width="3.5"/>
<rect x="1542.5" y="3549.8" width="29.5" height="446.5" fill="rgba(249,219,205,0.5)" stroke="#B2B2B2" stroke-width="3.5"/>
<path d="M334.5,1150.0 L336.0,1068.0 L338.5,1042.0 L343.0,1042.0 L346.5,1068.0 L347.5,1150.0 Z" fill="#000" stroke="#000" stroke-width="2" stroke-linejoin="round"/>
<path d="M363.0,1215.0 L364.8,1290.0 L368.0,1312.0 L370.5,1323.0 L373.0,1310.0 L375.0,1275.0 L375.5,1215.0 Z" fill="#000" stroke="#000" stroke-width="2" stroke-linejoin="round"/>
<path d="M320.0,2634.0 L322.3,2622.0 L322.3,2556.0 L325.3,2544.0 L326.5,2537.0 L329.5,2538.0 L330.1,2568.0 L333.1,2586.0 L333.7,2634.0 Z" fill="#000" stroke="#000" stroke-width="2" stroke-linejoin="round"/>
<path d="M349.5,2745.0 L353.0,2760.0 L354.2,2808.0 L356.6,2814.0 L359.0,2808.0 L360.2,2760.0 L362.0,2742.0 Z" fill="#000" stroke="#000" stroke-width="2" stroke-linejoin="round"/>
<path d="M328.0,3905.0 L330.1,3894.0 L330.1,3842.0 L332.7,3839.0 L337.1,3846.0 L337.1,3916.0 L339.0,3925.0 Z" fill="#000" stroke="#000" stroke-width="2" stroke-linejoin="round"/>
<path d="M356.3,4030.0 L358.9,4114.5 L361.5,4145.0 L364.7,4133.7 L366.6,4114.5 L366.6,4031.3 Z" fill="#000" stroke="#000" stroke-width="2" stroke-linejoin="round"/>
<text transform="translate(119.81,961.99) rotate(-90) scale(1.0027,1)" font-family='"Liberation Sans", Arial, sans-serif' font-weight="bold" font-size="89.39">Signal Intensity</text>
<text transform="translate(933.44,664.00) scale(0.8156,1)" font-family='"Liberation Sans", Arial, sans-serif' font-weight="normal" font-size="76.65">A1</text>
<text transform="translate(1032.42,331.30) scale(0.9383,1)" font-family='"Liberation Sans", Arial, sans-serif' font-weight="normal" font-size="74.70">A2</text>
<text transform="translate(1317.12,628.96) scale(0.9460,1)" font-family='"Liberation Sans", Arial, sans-serif' font-weight="normal" font-size="74.06">A3</text>
<text transform="translate(1532.43,580.80) scale(0.9125,1)" font-family='"Liberation Sans", Arial, sans-serif' font-weight="normal" font-size="75.64">A4</text>
<text transform="translate(1638.52,602.86) scale(0.9600,1)" font-family='"Liberation Sans", Arial, sans-serif' font-weight="normal" font-size="73.69">A5</text>
<text transform="translate(1733.82,639.47) scale(0.9642,1)" font-family='"Liberation Sans", Arial, sans-serif' font-weight="normal" font-size="72.93">A6</text>
<text transform="translate(1698.49,502.57) scale(0.9549,1)" font-family='"Liberation Sans", Arial, sans-serif' font-weight="bold" font-size="73.47">CA blank</text>
<text transform="translate(1750.95,772.78) scale(0.9790,1)" font-family='"Liberation Sans", Arial, sans-serif' font-weight="bold" font-size="71.56">mixture</text>
<text transform="translate(1546.73,1041.42) scale(1.0019,1)" font-family='"Liberation Sans", Arial, sans-serif' font-weight="bold" font-size="70.24">peptide blank</text>
<text transform="translate(987.64,1481.09) scale(0.9517,1)" font-family='"Liberation Serif", "Times New Roman", serif' font-weight="normal" font-size="132.27">(</text>
<text transform="translate(1031.34,1480.27) scale(0.9365,1)" font-family='"Liberation Serif", "Times New Roman", serif' font-weight="bold" font-size="133.33">a</text>
<text transform="translate(1096.84,1481.09) scale(0.8985,1)" font-family='"Liberation Serif", "Times New Roman", serif' font-weight="normal" font-size="132.27">)</text>
<text transform="translate(107.41,2460.30) rotate(-90) scale(1.0051,1)" font-family='"Liberation Sans", Arial, sans-serif' font-weight="bold" font-size="89.39">Signal Intensity</text>
<text transform="translate(532.73,2146.70) scale(0.8326,1)" font-family='"Liberation Sans", Arial, sans-serif' font-weight="normal" font-size="75.20">B1</text>
<text transform="translate(1026.06,2090.00) scale(0.9850,1)" font-family='"Liberation Sans", Arial, sans-serif' font-weight="normal" font-size="73.12">B2</text>
<text transform="translate(1246.10,2151.79) scale(1.0121,1)" font-family='"Liberation Sans", Arial, sans-serif' font-weight="normal" font-size="70.67">B3</text>
<text transform="translate(1486.80,1630.20) scale(0.9276,1)" font-family='"Liberation Sans", Arial, sans-serif' font-weight="normal" font-size="75.78">B4</text>
<text transform="translate(1673.73,2011.87) scale(0.9495,1)" font-family='"Liberation Sans", Arial, sans-serif' font-weight="bold" font-size="72.93">RA blank</text>
<text transform="translate(1714.96,2284.98) scale(0.9671,1)" font-family='"Liberation Sans", Arial, sans-serif' font-weight="bold" font-size="72.24">mixture</text>
<text transform="translate(1523.88,2540.98) scale(1.0015,1)" font-family='"Liberation Sans", Arial, sans-serif' font-weight="bold" font-size="69.49">peptide blank</text>
<text transform="translate(980.61,2990.46) scale(0.9114,1)" font-family='"Liberation Serif", "Times New Roman", serif' font-weight="normal" font-size="133.81">(</text>
<text transform="translate(1023.03,2989.24) scale(1.0464,1)" font-family='"Liberation Serif", "Times New Roman", serif' font-weight="bold" font-size="135.60">b</text>
<text transform="translate(1103.95,2990.46) scale(0.8852,1)" font-family='"Liberation Serif", "Times New Roman", serif' font-weight="normal" font-size="133.81">)</text>
<text transform="translate(116.61,3934.50) rotate(-90) scale(1.0051,1)" font-family='"Liberation Sans", Arial, sans-serif' font-weight="bold" font-size="89.39">Signal Intensity</text>
<text transform="translate(704.47,3165.94) scale(0.8524,1)" font-family='"Liberation Sans", Arial, sans-serif' font-weight="normal" font-size="75.76">C1</text>
<text transform="translate(852.58,3210.15) scale(0.9352,1)" font-family='"Liberation Sans", Arial, sans-serif' font-weight="normal" font-size="75.19">C2</text>
<text transform="translate(938.99,3162.06) scale(0.9415,1)" font-family='"Liberation Sans", Arial, sans-serif' font-weight="normal" font-size="74.49">C3</text>
<text transform="translate(1046.67,3371.79) scale(0.9433,1)" font-family='"Liberation Sans", Arial, sans-serif' font-weight="normal" font-size="70.67">C4</text>
<text transform="translate(1261.53,3383.27) scale(0.9544,1)" font-family='"Liberation Sans", Arial, sans-serif' font-weight="normal" font-size="72.79">C5</text>
<text transform="translate(1400.54,3376.79) scale(0.9792,1)" font-family='"Liberation Sans", Arial, sans-serif' font-weight="normal" font-size="70.67">C6</text>
<text transform="translate(1640.19,3313.30) scale(1.0016,1)" font-family='"Liberation Sans", Arial, sans-serif' font-weight="bold" font-size="70.07">CHL blank</text>
<text transform="translate(1724.52,3588.30) scale(1.0076,1)" font-family='"Liberation Sans", Arial, sans-serif' font-weight="bold" font-size="69.93">mixture</text>
<text transform="translate(1532.23,3850.30) scale(0.9986,1)" font-family='"Liberation Sans", Arial, sans-serif' font-weight="bold" font-size="70.35">peptide blank</text>
<text transform="translate(649.04,4236.38) scale(1.0106,1)" font-family='"Liberation Sans", Arial, sans-serif' font-weight="bold" font-size="88.79">Retention time [min]</text>
<text transform="translate(992.24,4379.18) scale(0.8976,1)" font-family='"Liberation Serif", "Times New Roman", serif' font-weight="normal" font-size="132.82">(</text>
<text transform="translate(1035.93,4378.69) scale(0.9737,1)" font-family='"Liberation Serif", "Times New Roman", serif' font-weight="bold" font-size="131.25">c</text>
<text transform="translate(1092.15,4379.18) scale(0.9152,1)" font-family='"Liberation Serif", "Times New Roman", serif' font-weight="normal" font-size="132.82">)</text>
</svg>
</body></html>
